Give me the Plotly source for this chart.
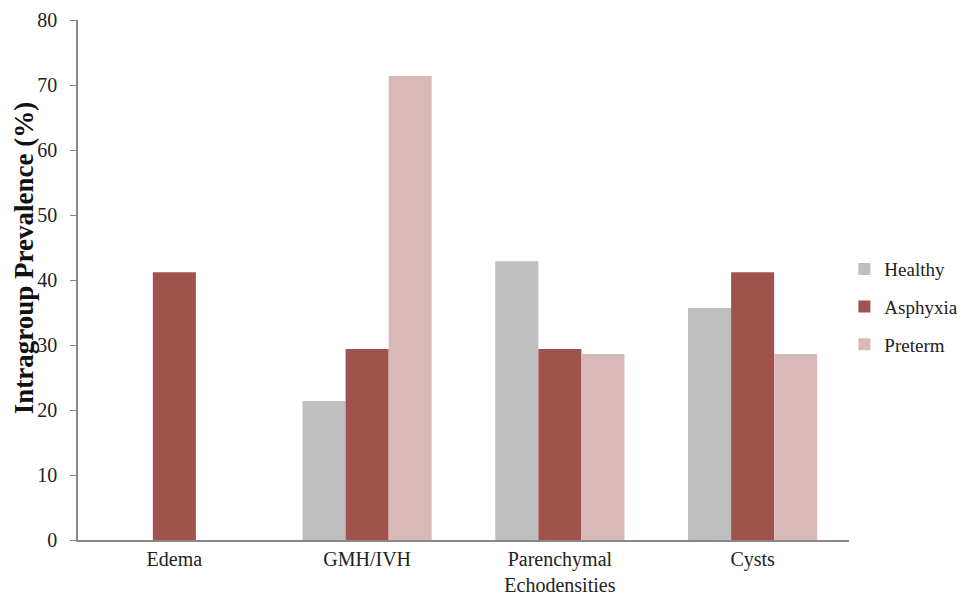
import plotly.graph_objects as go

categories = ["Edema", "GMH/IVH", "Parenchymal<br>Echodensities", "Cysts"]
healthy = [0, 21.4, 42.9, 35.7]
asphyxia = [41.2, 29.4, 29.4, 41.2]
preterm = [0, 71.4, 28.6, 28.6]
y_ticks = [0, 10, 20, 30, 40, 50, 60, 70, 80]

series = [
    ("Healthy", healthy, "#bfbfbf"),
    ("Asphyxia", asphyxia, "#a0524d"),
    ("Preterm", preterm, "#d9b9b8"),
]

fig = go.Figure()
for name, vals, col in series:
    fig.add_trace(go.Bar(x=categories, y=vals, name=name, marker_color=col,
                         marker_line_width=0, legendgroup=name))

font = "Liberation Serif, Times New Roman, serif"
# page body has an 8px margin; figure sized/margined so plot area lands at the reference position
fig.update_layout(
    width=962, height=588,
    margin=dict(l=70, r=121, t=12, b=56, autoexpand=False),
    paper_bgcolor="white", plot_bgcolor="white",
    font=dict(family=font, size=20, color="#222"),
    barmode="group", bargap=0.33, bargroupgap=0,
    showlegend=True,
    legend=dict(x=0.994, y=0.448, xanchor="left", yanchor="middle",
                font=dict(family=font, size=19, color="#222"),
                tracegroupgap=10, itemwidth=30),
    xaxis=dict(showline=True, linecolor="#888", linewidth=1.5, ticks="",
               showgrid=False, tickfont=dict(size=20), automargin=False,
               ticklabelstandoff=0),
    yaxis=dict(range=[0, 80], tickvals=y_ticks, showline=True, linecolor="#888",
               linewidth=1.5, ticks="outside", ticklen=6, tickcolor="#888",
               showgrid=False, zeroline=False, tickfont=dict(size=20), automargin=False,
               ticklabelstandoff=9),
    annotations=[dict(text="<b>Intragroup Prevalence (%)</b>", textangle=-90,
                      xref="paper", yref="paper", x=-0.07, y=0.542,
                      xanchor="center", yanchor="middle", showarrow=False,
                      font=dict(size=27, family=font, color="#111"))],
)
fig.write_html("out.html")
